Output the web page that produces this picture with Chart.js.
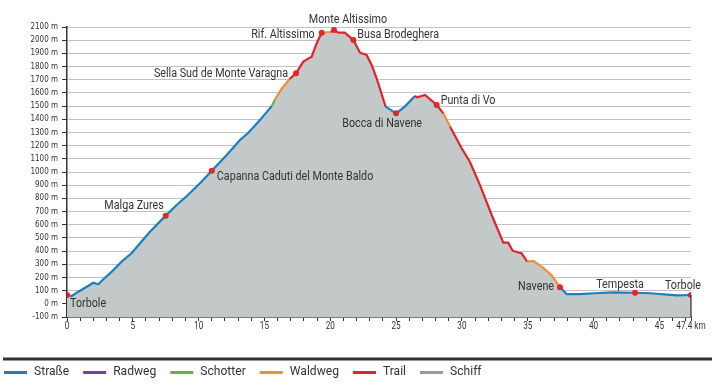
<!DOCTYPE html>
<html>
<head>
<meta charset="utf-8">
<script src="https://cdn.jsdelivr.net/npm/chart.js@4.4.1/dist/chart.umd.min.js"></script>
<style>
  html, body { margin: 0; padding: 0; background: #fff; }
  canvas { display: block; }
</style>
</head>
<body>
<canvas id="profile" width="712" height="386"></canvas>
<script>
// profile: distance (km), elevation (m), surface of the segment starting at each point
const km = [0, 0.36, 0.86, 1.5, 2.0, 2.38, 2.76, 3.4, 4.15, 4.9, 5.55, 6.3, 7.5, 8.33, 9.1, 10.1, 11.0, 12.13, 13.14, 13.77, 14.66, 15.55, 15.8, 16.3, 16.9, 17.4, 17.95, 18.33, 18.59, 18.97, 19.35, 19.8, 20.05, 20.28, 20.6, 21.1, 21.75, 22.26, 22.76, 23.14, 23.52, 24.2, 25.0, 25.66, 26.43, 26.6, 27.2, 28.08, 28.59, 29.1, 29.98, 30.6, 31.37, 32.26, 33.14, 33.52, 33.85, 34.54, 34.96, 35.42, 36.06, 36.8, 37.45, 37.95, 38.97, 40, 41.5, 43.15, 44.3, 46.3, 47.4];
const elevation = [67, 59, 92, 130, 160, 148, 186, 244, 320, 383, 459, 547, 669, 750, 818, 914, 1010, 1129, 1243, 1298, 1394, 1500, 1550, 1630, 1705, 1749, 1837, 1860, 1875, 1977, 2057, 2060, 2062, 2078, 2057, 2057, 2001, 1905, 1888, 1812, 1711, 1496, 1445, 1496, 1577, 1567, 1584, 1508, 1445, 1344, 1180, 1078, 901, 674, 464, 464, 403, 383, 320, 325, 282, 218, 125, 74, 74, 80, 87, 84, 80, 64, 67];
const surface = ["S","S","S","S","S","S","S","S","S","S","S","S","S","S","S","S","S","S","S","S","S","G","W","W","T","T","T","T","T","T","W","W","T","T","T","T","T","T","T","T","T","S","S","S","T","T","T","T","W","T","T","T","T","T","T","T","T","T","W","W","W","W","S","S","S","S","S","S","S","S","S"];

// points of interest
const poiNames = ["Torbole", "Malga Zures", "Capanna Caduti del Monte Baldo", "Sella Sud de Monte Varagna", "Rif. Altissimo", "Monte Altissimo", "Busa Brodeghera", "Bocca di Navene", "Punta di Vo", "Navene", "Tempesta", "Torbole"];
const poiKm = [0, 7.5, 11.0, 17.4, 19.35, 20.28, 21.75, 25.0, 28.08, 37.45, 43.15, 47.4];
const poiElev = [67, 669, 1010, 1749, 2057, 2078, 2001, 1445, 1508, 125, 84, 67];

// x axis labels
const xLabelValues = [0, 5, 10, 15, 20, 25, 30, 35, 40, 45, 47.4];
const xLabelTexts = ["0", "5", "10", "15", "20", "25", "30", "35", "40", "45", "47.4 km"];

// legend
const legendNames = ["Straße", "Radweg", "Schotter", "Waldweg", "Trail", "Schiff"];
const legendKeys = ["S", "R", "G", "W", "T", "F"];

const surfaceColors = {
  S: "#1c7fc2",
  R: "#7d3f92",
  G: "#62b34a",
  W: "#f08f3a",
  T: "#e2232b",
  F: "#9a9a9a"
};

const cond = "'DejaVu Sans Condensed', 'DejaVu Sans', sans-serif";

// label placement relative to each dot: dx, dy, align
const labelPos = [
  [3, 9, "left"], [-2, -10, "right"], [5, 6, "left"], [-8, 1, "right"],
  [-7, 2, "right"], [14, -10, "center"], [4, -5, "left"], [-14, 11, "center"],
  [4, -4, "left"], [-6, 0, "right"], [-15, -8, "center"], [-8, -9, "center"]
];

const xTicks = [];
for (let i = 0; i <= 47; i++) xTicks.push(i);
xTicks.push(47.4);

// squeeze text a little, the original uses a narrow typeface
function narrowText(ctx, text, x, y, align, squeeze) {
  ctx.save();
  ctx.translate(x, y);
  ctx.scale(squeeze, 1);
  ctx.textAlign = align;
  ctx.fillText(text, 0, 0);
  ctx.restore();
}

const overlay = {
  id: "overlay",
  afterDatasetsDraw(chart) {
    const ctx = chart.ctx;
    const x = chart.scales.x, y = chart.scales.y;
    ctx.save();
    ctx.strokeStyle = "#333";
    ctx.lineWidth = 1.2;
    ctx.beginPath();
    ctx.moveTo(x.getPixelForValue(km[km.length - 1]), y.getPixelForValue(elevation[elevation.length - 1]));
    ctx.lineTo(x.getPixelForValue(km[km.length - 1]), y.bottom);
    ctx.stroke();
    ctx.restore();
  },
  afterDraw(chart) {
    const ctx = chart.ctx;
    const x = chart.scales.x;
    const meta = chart.getDatasetMeta(2);
    ctx.save();
    ctx.font = "12.5px Roboto, sans-serif";
    ctx.fillStyle = "#333";
    ctx.textBaseline = "middle";
    meta.data.forEach((pt, i) => {
      const p = labelPos[i];
      narrowText(ctx, poiNames[i], pt.x + p[0], pt.y + p[1], p[2], 0.86);
    });

    ctx.font = "10px Roboto, sans-serif";
    xLabelValues.forEach((v, i) => {
      narrowText(ctx, xLabelTexts[i], x.getPixelForValue(v), 326, "center", 0.82);
    });

    // legend
    ctx.strokeStyle = "#333";
    ctx.lineWidth = 3;
    ctx.beginPath();
    ctx.moveTo(3, 359);
    ctx.lineTo(712, 359);
    ctx.stroke();

    ctx.font = "13px Roboto, sans-serif";
    let lx = 4;
    legendNames.forEach((name, i) => {
      ctx.fillStyle = surfaceColors[legendKeys[i]];
      ctx.fillRect(lx, 371, 23, 3);
      ctx.fillStyle = "#333";
      narrowText(ctx, name, lx + 30, 372, "left", 0.93);
      lx += 30 + ctx.measureText(name).width * 0.93 + 14;
    });
    ctx.restore();
  }
};

new Chart(document.getElementById("profile").getContext("2d"), {
  type: "line",
  data: {
    datasets: [
      {
        data: km.map((k, i) => ({ x: k, y: elevation[i] })),
        borderWidth: 0,
        pointRadius: 0,
        fill: "start",
        backgroundColor: "#c3c8c9",
        order: 3
      },
      {
        data: km.map((k, i) => ({ x: k, y: elevation[i] })),
        borderWidth: 2.2,
        pointRadius: 0,
        fill: false,
        segment: {
          borderColor: c => surfaceColors[surface[c.p0DataIndex]]
        },
        order: 2
      },
      {
        data: poiKm.map((k, i) => ({ x: k, y: poiElev[i] })),
        showLine: false,
        pointRadius: 3,
        pointBackgroundColor: "#e3262c",
        pointBorderWidth: 0,
        order: 1
      }
    ]
  },
  options: {
    responsive: false,
    animation: false,
    devicePixelRatio: 1,
    layout: { padding: { top: 27, right: 21, left: 0, bottom: 0 } },
    plugins: { legend: { display: false }, tooltip: { enabled: false } },
    scales: {
      x: {
        type: "linear",
        min: 0,
        max: 47.4,
        afterFit: s => { s.height = 69; },
        afterBuildTicks: s => { s.ticks = xTicks.map(v => ({ value: v })); },
        ticks: { display: false, autoSkip: false },
        grid: { drawOnChartArea: false, drawTicks: true, tickLength: 4, tickColor: "#333" },
        border: { color: "#333", width: 1.5 }
      },
      y: {
        min: -100,
        max: 2100,
        afterFit: s => { s.width = 67; },
        ticks: {
          stepSize: 100,
          autoSkip: false,
          padding: 4,
          color: "#333",
          font: { family: cond, size: 8 },
          callback: v => v + " m"
        },
        grid: { color: "#c2c2c2", lineWidth: 1, tickLength: 5, tickColor: "#333" },
        border: { color: "#333", width: 1.5 }
      }
    }
  },
  plugins: [overlay]
});
</script>
</body>
</html>
